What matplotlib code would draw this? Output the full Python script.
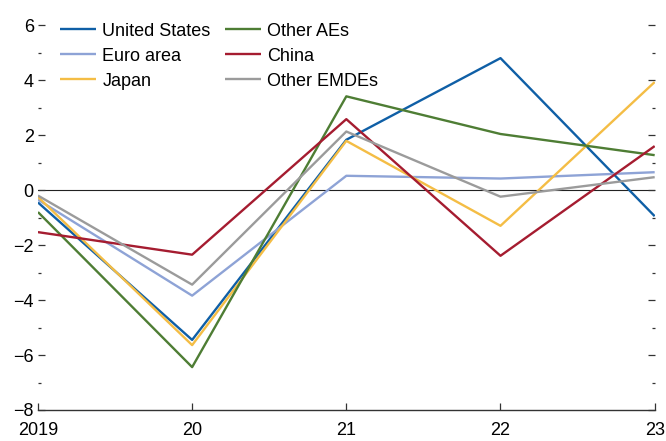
import matplotlib
matplotlib.use("Agg")
import matplotlib.pyplot as plt
from matplotlib.ticker import MultipleLocator
from matplotlib import font_manager

names = {f.name for f in font_manager.fontManager.ttflist}
fam = "Liberation Sans Narrow" if "Liberation Sans Narrow" in names else "Liberation Sans"
plt.rcParams['font.family'] = [fam, 'DejaVu Sans']

years = [2019, 2020, 2021, 2022, 2023]
xlabels = ["2019", "20", "21", "22", "23"]

us = [-0.45, -5.45, 1.83, 4.8, -0.95]
euro = [-0.35, -3.84, 0.52, 0.42, 0.65]
japan = [-0.25, -5.64, 1.79, -1.3, 3.93]
other_aes = [-0.8, -6.44, 3.41, 2.04, 1.27]
china = [-1.53, -2.35, 2.58, -2.39, 1.6]
other_emdes = [-0.2, -3.44, 2.13, -0.24, 0.47]

series = [
    ("United States", us, "#0F5FA6"),
    ("Euro area", euro, "#8EA3D6"),
    ("Japan", japan, "#F4BD45"),
    ("Other AEs", other_aes, "#4E7D34"),
    ("China", china, "#A51C30"),
    ("Other EMDEs", other_emdes, "#9B9B9B"),
]

fig = plt.figure(figsize=(6.66, 4.41), dpi=100)
ax = fig.add_axes([0.057, 0.0703, 0.926, 0.8727])

for name, vals, col in series:
    ax.plot(years, vals, color=col, lw=1.7, label=name, solid_capstyle='butt')

ax.axhline(0, color="#222222", lw=0.8, zorder=1)

ax.set_xlim(2019, 2023)
ax.set_ylim(-8, 6)
ax.set_xticks(years)
ax.set_xticklabels(xlabels)
ax.yaxis.set_major_locator(MultipleLocator(2))
ax.yaxis.set_minor_locator(MultipleLocator(1))

for s in ["left", "right", "top"]:
    ax.spines[s].set_visible(False)
ax.spines["bottom"].set_color("#333333")
ax.spines["bottom"].set_linewidth(1.0)

ax.tick_params(axis='y', which='major', direction='in', length=5, width=0.9,
               left=True, right=True, labelleft=True, labelright=False,
               labelsize=13, pad=3, color="#333333")
ax.tick_params(axis='y', which='minor', direction='in', length=2.5, width=0.9,
               left=True, right=True, color="#333333")
ax.tick_params(axis='x', which='major', direction='in', length=5, width=0.9,
               labelsize=13, pad=8.5, color="#333333")

leg = ax.legend(ncol=2, loc='upper left', bbox_to_anchor=(0.018, 1.035), frameon=False,
                fontsize=13, handlelength=2.0, handletextpad=0.35, columnspacing=0.8,
                labelspacing=0.45, borderaxespad=0.2)

fig.savefig("out.png", dpi=100)
